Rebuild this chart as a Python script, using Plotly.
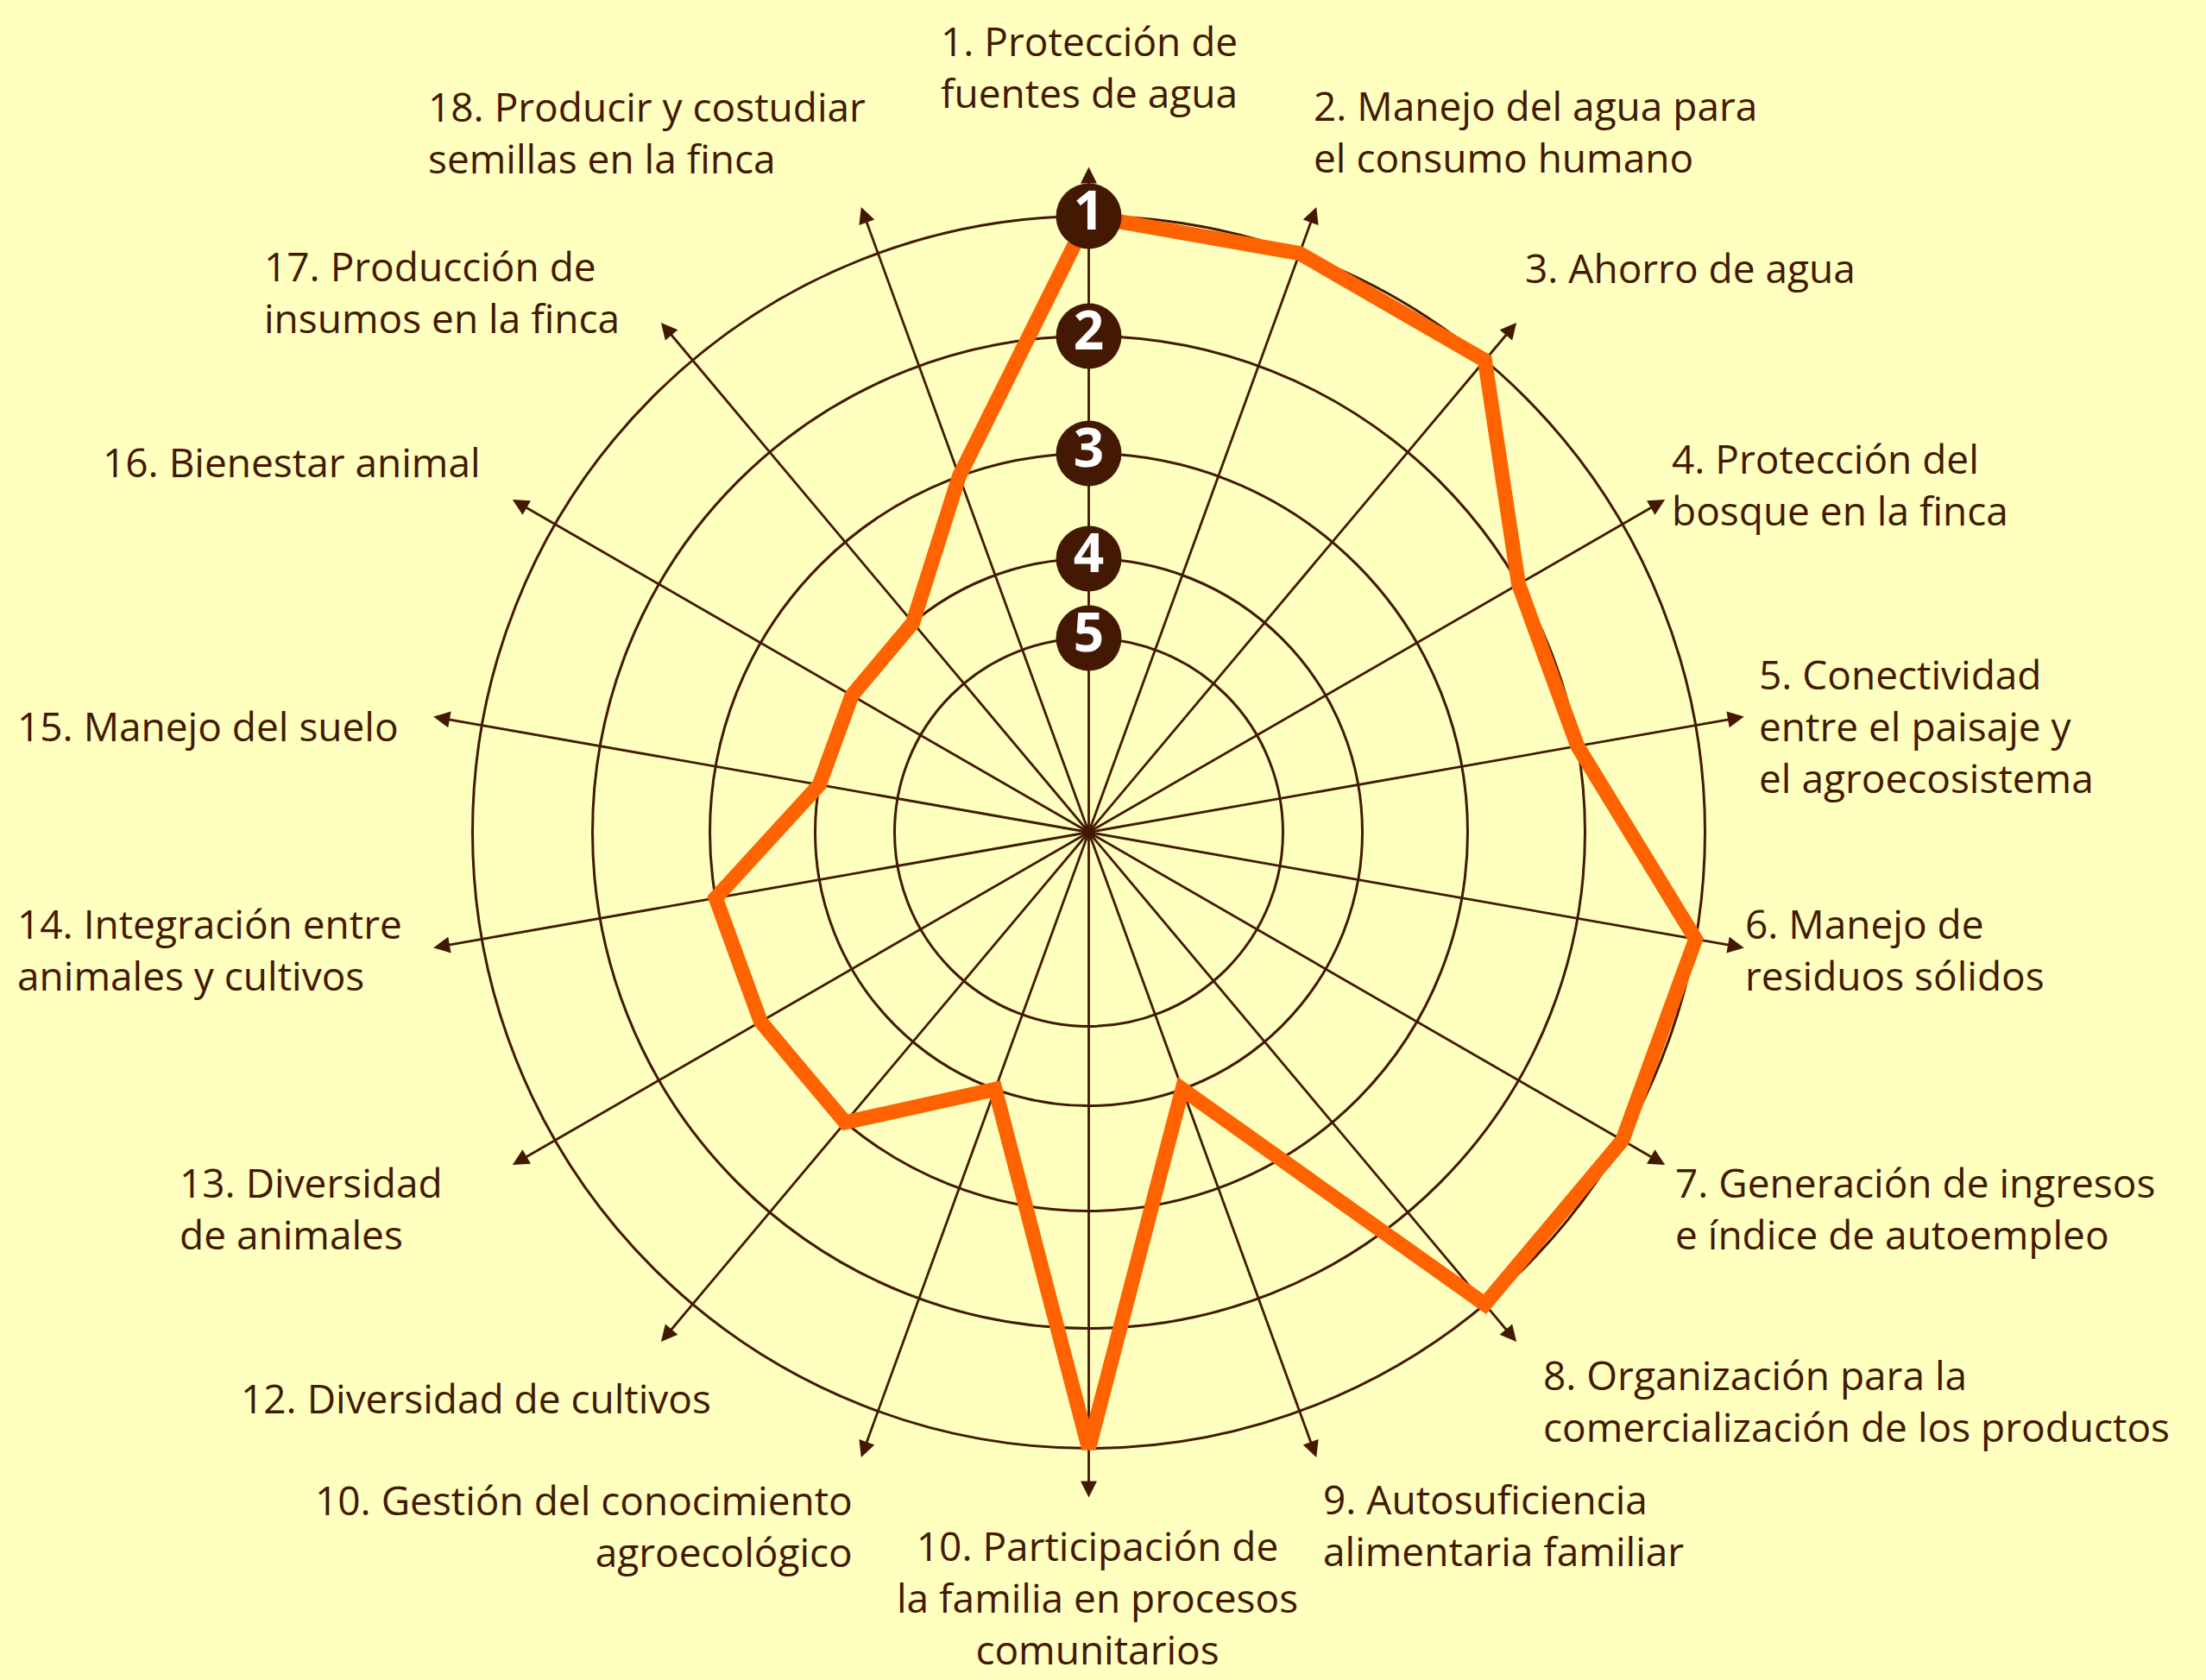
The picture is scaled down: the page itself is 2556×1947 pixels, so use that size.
import numpy as np
import plotly.graph_objects as go

# ---------------- data ----------------
CATEGORIES = [
    "1. Protección de\nfuentes de agua",
    "2. Manejo del agua para\nel consumo humano",
    "3. Ahorro de agua",
    "4. Protección del\nbosque en la finca",
    "5. Conectividad\nentre el paisaje y\nel agroecosistema",
    "6. Manejo de\nresiduos sólidos",
    "7. Generación de ingresos\ne índice de autoempleo",
    "8. Organización para la\ncomercialización de los productos",
    "9. Autosuficiencia\nalimentaria familiar",
    "10. Participación de\nla familia en procesos\ncomunitarios",
    "10. Gestión del conocimiento\nagroecológico",
    "12. Diversidad de cultivos",
    "13. Diversidad\nde animales",
    "14. Integración entre\nanimales y cultivos",
    "15. Manejo del suelo",
    "16. Bienestar animal",
    "17. Producción de\ninsumos en la finca",
    "18. Producir y costudiar\nsemillas en la finca",
]
LEVELS = [1, 1, 1, 2, 2, 1, 1, 1, 4, 1, 4, 3, 3, 3, 4, 4, 4, 3]
RING_LEVELS = [1, 2, 3, 4, 5]
RING_LABELS = ["1", "2", "3", "4", "5"]

# ---------------- layout / style ----------------
W, H = 2556, 1947
CX, CY = 1261.5, 964.5          # pixel centre of the chart
R_MAX = 800                      # radial range (1 unit = 1 px)
RING_RADIUS = [714, 575, 439, 317, 225]   # radial scale: level -> radius
ARROW_TIP = 771
BG = "#FFFFBF"
BROWN = "#431904"
ORANGE = "#FF6200"
FONT = "Open Sans, Noto Sans, sans-serif"
LABEL_SIZE = 46
LINE_H = 1.3 * LABEL_SIZE        # plotly multi-line spacing
REF_LINE_H = 54.5
ASCENT = 1.069                   # font ascent (em)

# label anchor: (x px, first baseline px in reference, xanchor)
LABEL_LAYOUT = [
    (1261.5, 67, "center"),
    (1521, 142, "left"),
    (1766, 327, "left"),
    (1936, 551, "left"),
    (2037, 803, "left"),
    (2021, 1090, "left"),
    (1940, 1390, "left"),
    (1787, 1613, "left"),
    (1532, 1757, "left"),
    (1271, 1813, "center"),
    (989, 1758, "right"),
    (278, 1637, "left"),
    (207, 1390, "left"),
    (19, 1090, "left"),
    (19, 858, "left"),
    (118, 552, "left"),
    (305, 328, "left"),
    (495, 143, "left"),
]


def level_to_r(v):
    # ring radii are listed for increasing level, radius decreasing
    return float(np.interp(v, RING_LEVELS, RING_RADIUS))


n = len(CATEGORIES)
theta = [i * 360.0 / n for i in range(n)]

fig = go.Figure()

# spokes
sr, st = [], []
for t in theta:
    sr += [0, ARROW_TIP - 8, None]
    st += [t, t, None]
fig.add_trace(go.Scatterpolar(r=sr, theta=st, mode="lines",
                              line=dict(color=BROWN, width=2.8),
                              hoverinfo="skip", showlegend=False, connectgaps=False))

# data polygon
pr = [level_to_r(v) for v in LEVELS]
fig.add_trace(go.Scatterpolar(r=pr + [pr[0]], theta=theta + [theta[0]], mode="lines",
                              line=dict(color=ORANGE, width=17),
                              customdata=LEVELS + [LEVELS[0]],
                              hoverinfo="skip", showlegend=False))

# arrow heads
fig.add_trace(go.Scatterpolar(r=[ARROW_TIP] * n, theta=theta, mode="markers",
                              marker=dict(symbol="arrow-up", size=19, color=BROWN,
                                          angle=theta, line=dict(width=0)),
                              hoverinfo="skip", showlegend=False))

# level badges
fig.add_trace(go.Scatterpolar(r=[level_to_r(v) for v in RING_LEVELS],
                              theta=[0] * len(RING_LEVELS),
                              mode="markers+text", text=RING_LABELS,
                              textposition="middle center",
                              textfont=dict(family=FONT, size=62, color="white", weight="bold"),
                              marker=dict(size=76, color=BROWN, line=dict(width=0)),
                              hoverinfo="skip", showlegend=False))

# labels
annotations = []
for text, (lx, base, anchor) in zip(CATEGORIES, LABEL_LAYOUT):
    lines = text.split("\n")
    k = len(lines) - 1
    # centre the block on the reference block
    first_base = base - k * (LINE_H - REF_LINE_H) / 2
    top = first_base - ASCENT * LABEL_SIZE
    annotations.append(dict(x=lx / W, y=1 - top / H, xref="paper", yref="paper",
                            text="<br>".join(lines), showarrow=False,
                            xanchor=anchor, yanchor="top", align=anchor,
                            borderpad=0,
                            font=dict(family=FONT, size=LABEL_SIZE, color=BROWN)))

fig.update_layout(
    width=W, height=H,
    paper_bgcolor=BG, plot_bgcolor=BG,
    margin=dict(l=0, r=0, t=0, b=0),
    showlegend=False,
    annotations=annotations,
    polar=dict(
        bgcolor=BG,
        domain=dict(x=[(CX - R_MAX) / W, (CX + R_MAX) / W],
                    y=[(H - CY - R_MAX) / H, (H - CY + R_MAX) / H]),
        radialaxis=dict(range=[0, R_MAX], tickvals=RING_RADIUS, ticktext=RING_LABELS,
                        showticklabels=False, ticks="", showline=False,
                        showgrid=True, gridcolor=BROWN, gridwidth=2.8),
        angularaxis=dict(rotation=90, direction="clockwise", showgrid=False,
                         showline=False, showticklabels=False, ticks=""),
    ),
)

fig.write_html("out.html", config={"displayModeBar": False},
               post_script="document.body.style.margin='0';document.body.style.overflow='hidden';")
